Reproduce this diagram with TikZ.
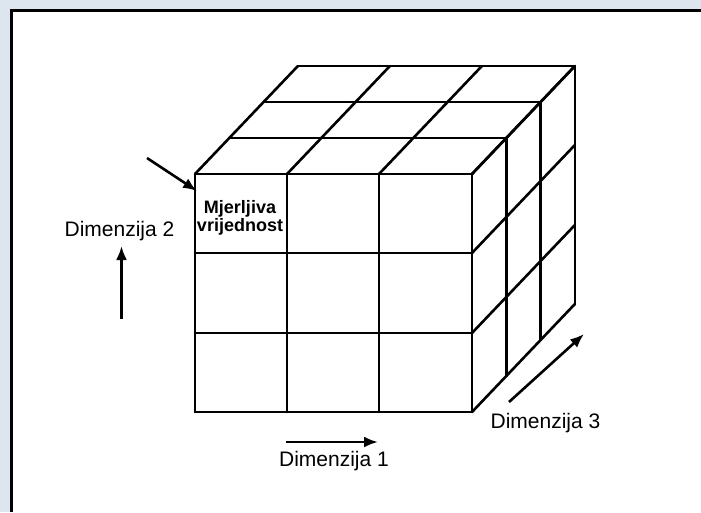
\documentclass[tikz,border=0pt]{standalone}
\usepackage{fontspec}
\setmainfont{Liberation Sans}
\usetikzlibrary{arrows.meta}
\definecolor{bgblue}{RGB}{221,229,239}
\begin{document}
\begin{tikzpicture}[x=1pt,y=-1pt,
  cubeline/.style={line width=2.6pt,line cap=round,line join=round},
  dimarrow/.style={line width=2.6pt,-{Latex[length=14pt,width=11pt]}},
  dimlabel/.style={font=\fontsize{21}{24}\selectfont,inner sep=0pt,anchor=center},
  celllabel/.style={font=\fontsize{18}{18.5}\selectfont\bfseries,align=center,inner sep=0pt}]
\useasboundingbox (0,0) rectangle (701,512);
\fill[bgblue] (0,0) rectangle (701,512);
\fill[white] (11.5,10.5) rectangle (701,512);
\draw[line width=3pt] (11.5,512) -- (11.5,10.5) -- (701,10.5);
% depth vector
\def\dx{34.3}\def\dy{-36}
% front face
\foreach \x in {195,287,379,472}{\draw[cubeline] (\x,174) -- (\x,412);}
\foreach \y in {174,253,333,412}{\draw[cubeline] (195,\y) -- (472,\y);}
% top face
\foreach \k in {1,2,3}{\draw[cubeline] (195+\k*\dx,174+\k*\dy) -- (472+\k*\dx,174+\k*\dy);}
\foreach \x in {195,287,379,472}{\draw[cubeline] (\x,174) -- (\x+3*\dx,174+3*\dy);}
% right face
\foreach \k in {1,2,3}{\draw[cubeline] (472+\k*\dx,174+\k*\dy) -- (472+\k*\dx,412+\k*\dy);}
\foreach \y in {174,253,333,412}{\draw[cubeline] (472,\y) -- (472+3*\dx,\y+3*\dy);}
% label in cell
\node[celllabel] (cell) at (240,218) {Mjerljiva\\vrijednost};
% arrows
\coordinate (p0) at (147,158);
\coordinate (p1) at (197,191);
\draw[dimarrow] (p0) -- (p1);
\node[dimlabel] (d2) at (119.5,231) {Dimenzija 2};
\coordinate (a2s) at (121.5,319);
\coordinate (a2e) at (121.5,246);
\draw[dimarrow] (a2s) -- (a2e);
\coordinate (a1s) at (286,442);
\coordinate (a1e) at (378,442);
\draw[dimarrow] (a1s) -- (a1e);
\node[dimlabel] (d1) at (334,461.5) {Dimenzija 1};
\coordinate (a3s) at (509,402);
\coordinate (a3e) at (584,334);
\draw[dimarrow] (a3s) -- (a3e);
\node[dimlabel] (d3) at (545.5,423.5) {Dimenzija 3};
\end{tikzpicture}
\end{document}
